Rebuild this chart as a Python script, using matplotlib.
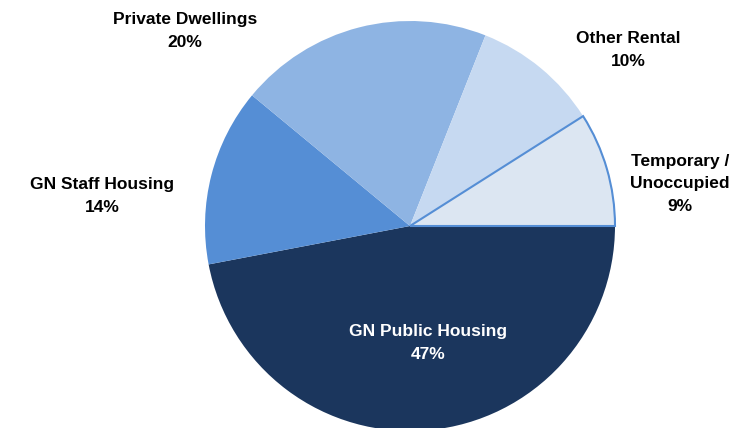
import matplotlib.pyplot as plt

labels = ['GN Public Housing', 'GN Staff Housing', 'Private Dwellings',
          'Other Rental', 'Temporary /\nUnoccupied']
shares = [47, 14, 20, 10, 9]
colors = ['#1b365d', '#558ed5', '#8eb4e3', '#c6d9f1', '#dce6f2']
# where each label sits, in pie-radius units around the centre
label_pos = [(0.088, -0.571), (-1.502, 0.146), (-1.098, 0.951),
             (1.063, 0.859), (1.317, 0.205)]
label_colors = ['white', 'black', 'black', 'black', 'black']

plt.rcParams['font.family'] = ['Liberation Sans', 'DejaVu Sans']

fig = plt.figure(figsize=(7.44, 4.28), dpi=100)
ax = fig.add_axes([205 / 744, -3 / 428, 410 / 744, 410 / 428])

wedges, _ = ax.pie(shares, colors=colors, startangle=0, counterclock=False,
                   radius=1.0)
wedges[-1].set_edgecolor('#558ed5')
wedges[-1].set_linewidth(1.5)
ax.set_xlim(-1, 1)
ax.set_ylim(-1, 1)
ax.set_aspect('equal')
ax.axis('off')

for name, val, (x, y), c in zip(labels, shares, label_pos, label_colors):
    ax.text(x, y, f'{name}\n{val}%', ha='center', va='center',
            fontsize=12.5, fontweight='bold', color=c, linespacing=1.65,
            clip_on=False)

fig.savefig('out.png', dpi=100)
